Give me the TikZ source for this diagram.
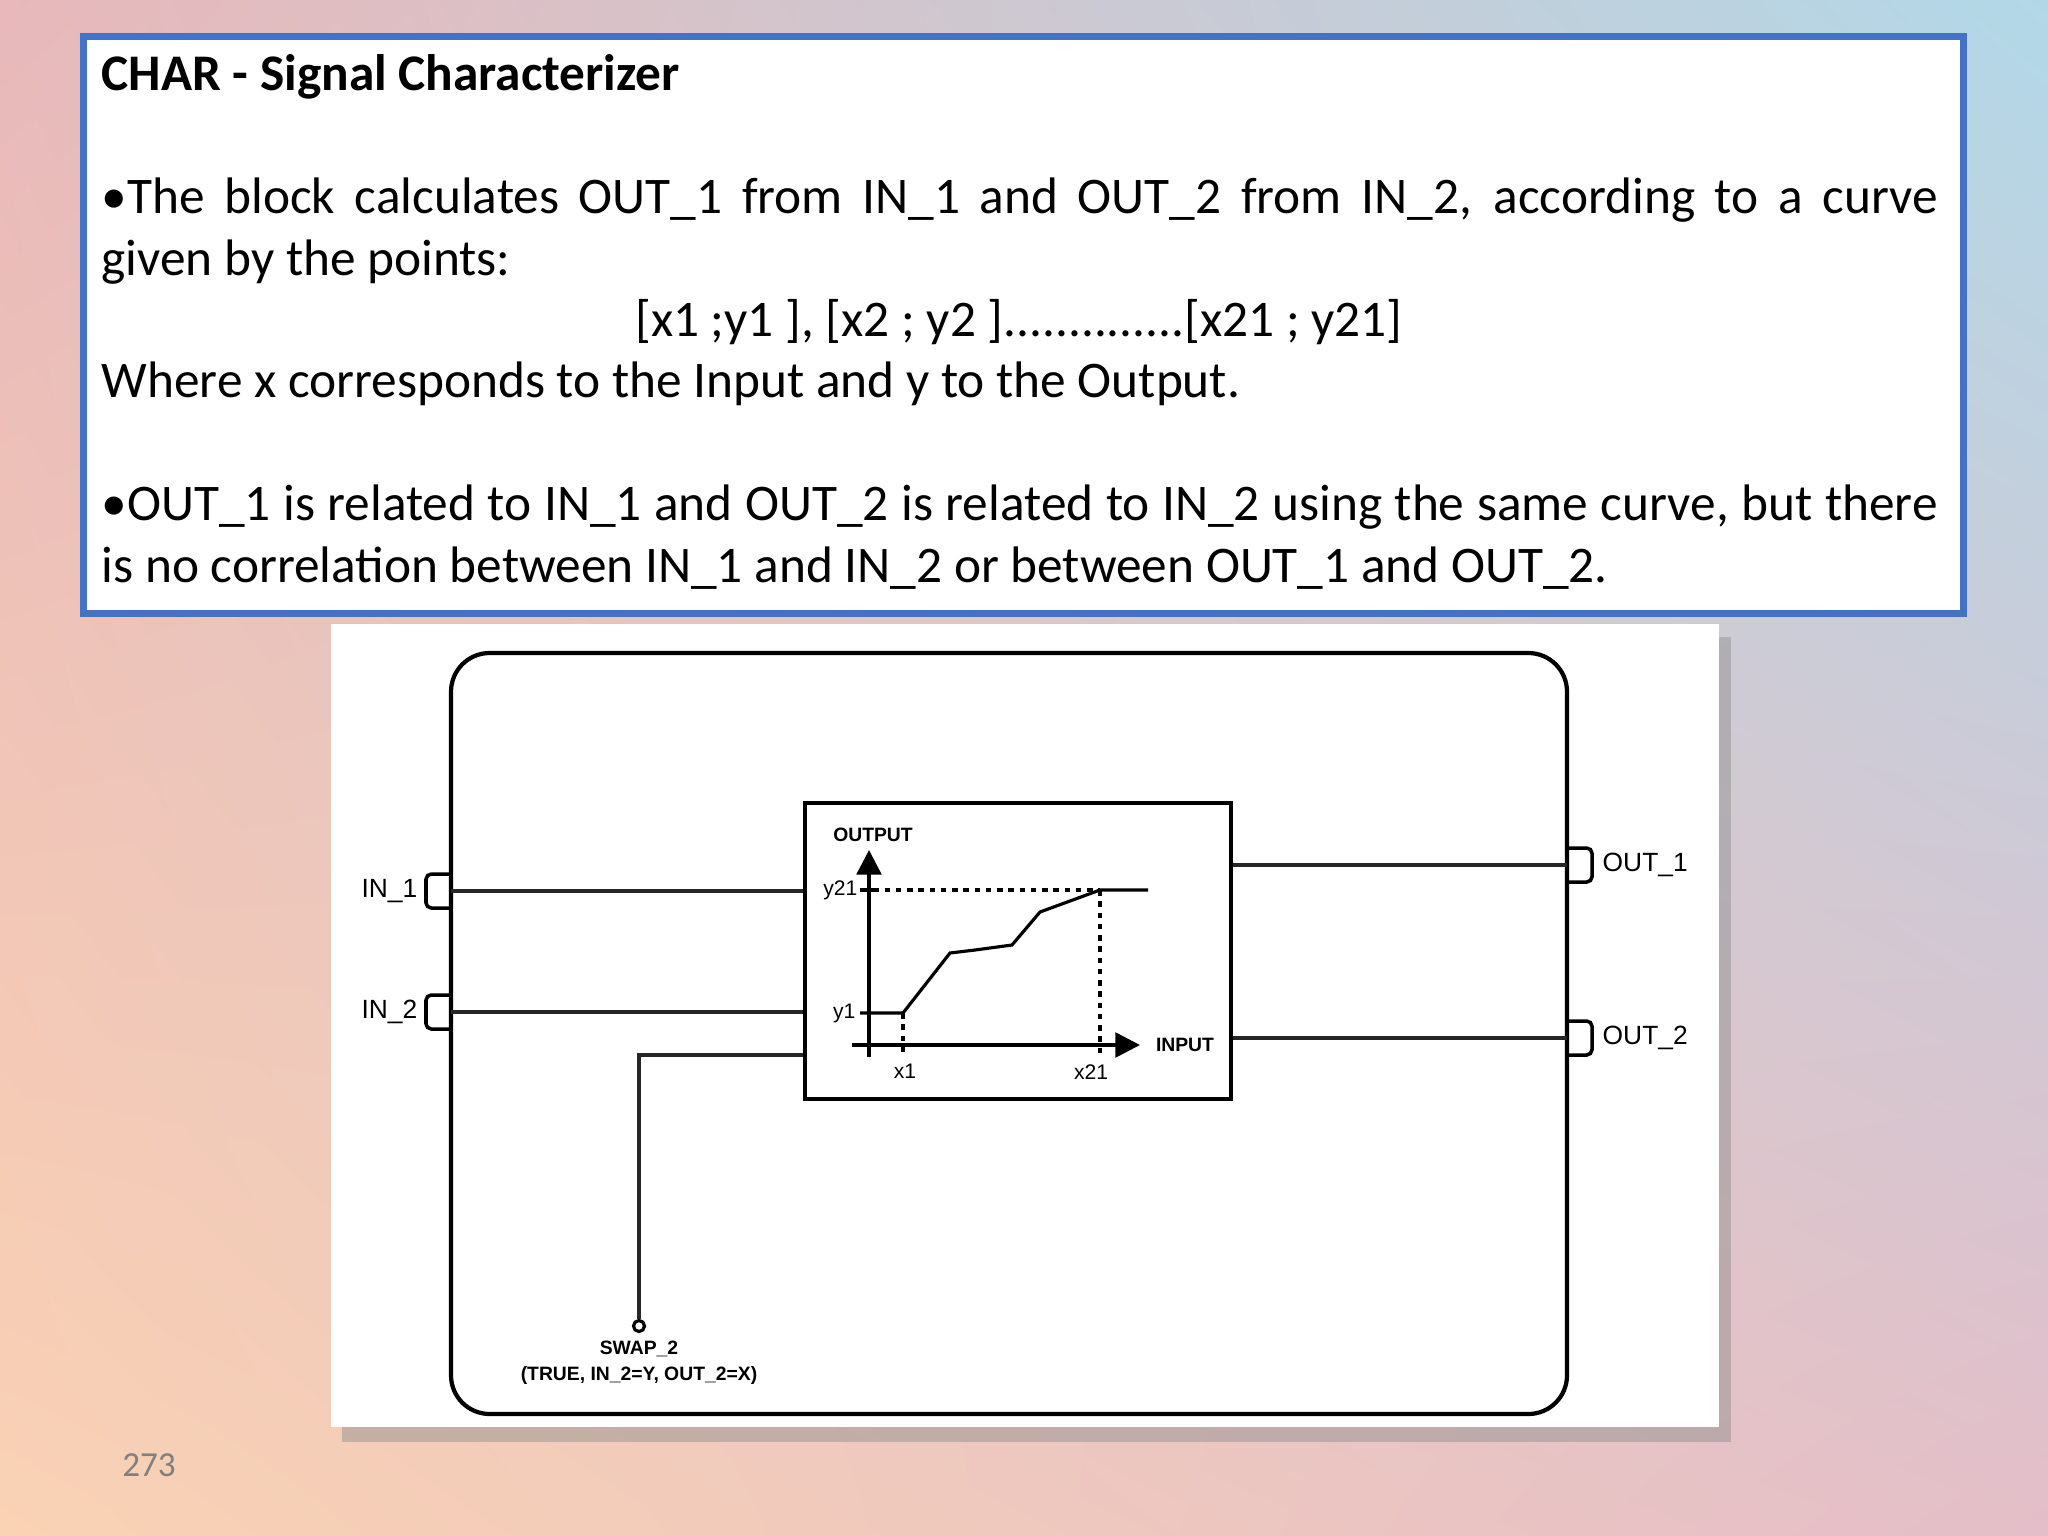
\documentclass[tikz,border=0pt]{standalone}
\usepackage{fontspec}
\setmainfont{Carlito}
\newfontfamily\diag{Liberation Sans}
\usetikzlibrary{arrows.meta,shadings}
\definecolor{bgul}{RGB}{232,184,186}
\definecolor{bgur}{RGB}{178,216,232}
\definecolor{bgll}{RGB}{250,210,180}
\definecolor{bglr}{RGB}{228,190,200}
\definecolor{boxblue}{RGB}{68,114,196}
\begin{document}
\begin{tikzpicture}[x=0.01cm,y=-0.01cm,
  txt/.style={anchor=base west,inner sep=0,font=\fontsize{14.6}{17}\selectfont},
  wire/.style={line width=1.1pt,black!85},
  port/.style={draw,line width=1pt,rounded corners=1.5pt},
  dlab/.style={font=\diag\fontsize{7.5}{9}\selectfont,inner sep=0},
  slab/.style={font=\diag\bfseries\fontsize{5.5}{7}\selectfont,inner sep=0},
  dot/.style={dash pattern=on 1.6pt off 1.6pt,line width=0.9pt}]
\useasboundingbox (0,0) rectangle (2048,1536);
\shade[upper left=bgul,upper right=bgur,lower left=bgll,lower right=bglr] (0,0) rectangle (2048,1536);
% text box
\node[draw=boxblue,line width=2pt,fill=white,minimum width=18.79cm,minimum height=5.77cm,anchor=north west,inner sep=0] (tb) at (80,33) {};
\node[txt,font=\bfseries\fontsize{14.6}{17}\selectfont] (t0) at (101,90) {CHAR - Signal Characterizer};
\node[txt] (t1) at (101,213) {\makebox[18.35cm][s]{•The block calculates OUT\_1 from IN\_1 and OUT\_2 from IN\_2, according to a curve}};
\node[txt] (t2) at (101,275) {given by the points:};
\node[txt,anchor=base] (t3) at (1019,336) {[x1 ;y1 ], [x2 ; y2 ]..............[x21 ; y21]};
\node[txt] (t4) at (101,397) {Where x corresponds to the Input and y to the Output.};
\node[txt] (t5) at (101,520) {\makebox[18.35cm][s]{•OUT\_1 is related to IN\_1 and OUT\_2 is related to IN\_2 using the same curve, but there}};
\node[txt] (t6) at (101,582) {is no correlation between IN\_1 and IN\_2 or between OUT\_1 and OUT\_2.};
% diagram panel
\fill[black!45,opacity=0.45] (342,637) rectangle (1731,1442);
\node[fill=white,minimum width=13.87cm,minimum height=8.03cm,anchor=north west,inner sep=0] (panel) at (330,623) {};
\draw[line width=1.2pt,rounded corners=11pt] (451,653) rectangle (1567,1414);
\node[draw,line width=1.2pt,minimum width=4.26cm,minimum height=2.96cm,anchor=north west,inner sep=0] (blk) at (803,801) {};
% ports
\draw[port] (451,874) -- (426,874) -- (426,908) -- (451,908);
\draw[port] (451,995) -- (426,995) -- (426,1029) -- (451,1029);
\draw[port] (1567,848) -- (1592,848) -- (1592,882) -- (1567,882);
\draw[port] (1567,1021) -- (1592,1021) -- (1592,1055) -- (1567,1055);
\coordinate (i1) at (451,891); \coordinate (i2) at (451,1012);
\coordinate (o1) at (1567,865); \coordinate (o2) at (1567,1038);
\draw[wire] (i1) -- (i1 -| blk.west);
\draw[wire] (i2) -- (i2 -| blk.west);
\draw[wire] (o1 -| blk.east) -- (o1);
\draw[wire] (o2 -| blk.east) -- (o2);
\node[draw,circle,line width=0.9pt,inner sep=0,minimum size=0.11cm] (sw) at (639,1326) {};
\draw[wire] (blk.west |- 0,1055) -- (639,1055) -- (sw.north);
\node[dlab,anchor=east] (l1) at (418,891) {IN\_1};
\node[dlab,anchor=east] (l2) at (418,1012) {IN\_2};
\node[dlab,anchor=west] (l3) at (1602,865) {OUT\_1};
\node[dlab,anchor=west] (l4) at (1602,1038) {OUT\_2};
\node[slab] (s1) at (639,1349) {SWAP\_2};
\node[slab] (s2) at (639,1375) {(TRUE, IN\_2=Y, OUT\_2=X)};
% graph
\draw[line width=1pt,-{Triangle[length=7pt,width=7pt]}] (869,1057) -- (869,850);
\draw[line width=1pt,-{Triangle[length=7pt,width=7pt]}] (852,1045) -- (1140,1045);
\draw[line width=0.9pt] (860,1013) -- (903,1013) -- (950,953) -- (975,950) -- (1012,945) -- (1040,912) -- (1100,890) -- (1148,890);
\draw[dot] (862,890) -- (1100,890);
\draw[dot] (1100,890) -- (1100,1056);
\draw[dot] (903,1013) -- (903,1056);
\draw[line width=0.9pt] (860,890) -- (876,890);
\node[slab] (ol) at (873,835) {OUTPUT};
\node[slab] (il) at (1185,1045) {INPUT};
\node[slab,font=\diag\fontsize{6}{7}\selectfont,anchor=east] (y21) at (858,890) {y21};
\node[slab,font=\diag\fontsize{6}{7}\selectfont,anchor=east] (y1) at (856,1013) {y1};
\node[slab,font=\diag\fontsize{6}{7}\selectfont] (x1) at (905,1071) {x1};
\node[slab,font=\diag\fontsize{6}{7}\selectfont] (x21) at (1091,1072) {x21};
\node[font=\fontsize{10}{12}\selectfont,text=black!50] (pg) at (149,1465) {273};
\end{tikzpicture}
\end{document}
